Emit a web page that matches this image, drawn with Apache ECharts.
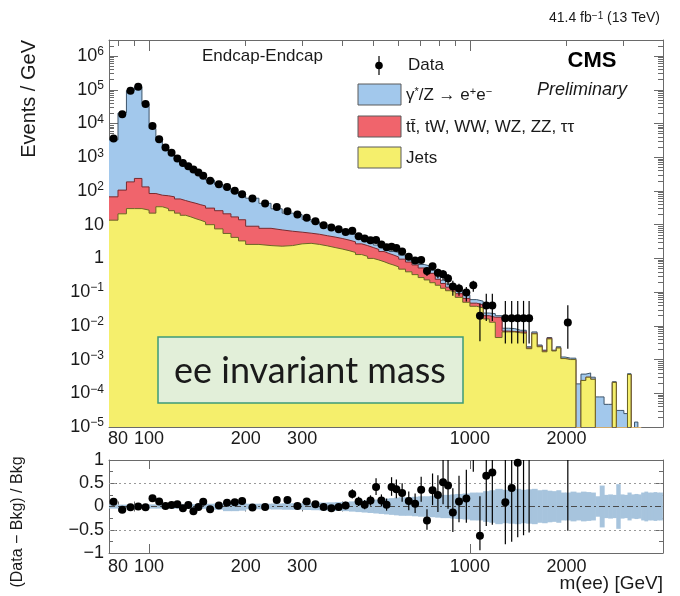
<!DOCTYPE html>
<html>
<head>
<meta charset="utf-8">
<title>m(ee) Endcap-Endcap</title>
<script src="https://cdn.jsdelivr.net/npm/echarts@6.0.0/dist/echarts.min.js"></script>
<style>
  html, body { margin: 0; padding: 0; background: #fff; }
  #chart { width: 680px; height: 596px; }
</style>
</head>
<body>
<div id="chart"></div>
<script>
// ---- binning (GeV) ----
const binEdges = [75, 80, 85, 90, 95, 100, 105, 110, 115, 120, 125, 130, 135, 140, 145, 150,
  160, 170, 180, 190, 200,
  220, 240, 260, 280, 300, 320, 340, 360, 380, 400, 420, 440, 460, 480, 500, 520, 540, 560, 580, 600,
  630, 660, 690, 720, 750, 780, 810, 840, 870, 900,
  950, 1000, 1050, 1100, 1150, 1200,
  1260, 1320, 1380, 1440, 1500, 1560, 1620, 1680, 1740, 1800, 1860, 1920, 1980,
  2060, 2140, 2220, 2300, 2380, 2460, 2540, 2620, 2700, 2780, 2860, 2940, 3020, 3100, 3180, 3260, 3340, 3420,
  3500, 3580, 3660, 3740, 3820, 3900, 3980];

// ---- backgrounds, events / GeV per bin ----
const dyEE = [3203, 20294, 94214, 122765, 38168, 7016, 3025, 1858, 1243, 818,
  656, 482, 427, 319, 224, 181, 130, 101, 76, 57,
  52, 35.2, 22.6, 15.6, 13.8, 8.8, 6.9, 5.1, 4.3, 3.5,
  2.5, 2.1, 1.4, 1.35, 0.97, 0.65, 0.7, 0.65, 0.35, 0.4,
  0.3, 0.22, 0.18, 0.14, 0.14, 0.08, 0.06, 0.045, 0.035, 0.03,
  0.025, 0.018, 0.013, 0.012, 0.004, 0.005, 0.002, 0.0015, 0.0015, 0.0008,
  0.0008, 0.0002, 0.0006, 0.0002, 0.0001, 0.0002, 0.0001, 0.0002, 0.00012, 0.0001,
  0.0001, 1.9e-4, 1.3e-4, 1.0e-4, 4e-5, 7.8e-5, 7.8e-5, 4.7e-5, 4.7e-5, 1e-5,
  3.1e-5, 3.1e-5, 2.5e-5, 2e-5, 0, 1.4e-5, 0];

const ttbarEtc = [53.4, 85, 156, 205, 105, 62, 41, 42, 41, 36,
  33, 30, 28, 25.5, 24, 21, 18.5, 15.5, 12.8, 10.7,
  6.4, 5.4, 4.7, 4.0, 3.3, 2.8, 2.6, 2.35, 2.2, 2.0,
  1.8, 1.6, 1.4, 1.25, 1.1, 0.95, 0.8, 0.7, 0.62, 0.54,
  0.47, 0.38, 0.31, 0.25, 0.23, 0.17, 0.08, 0.05, 0.03, 0.03,
  0.02, 0.015, 0.009, 0.008, 0.004, 0.0052, 0.0135, 0.0004, 0.0002, 0.0004,
  0.0006, 0.0001, 0.0002, 0.0001, 0.0001, 0.0002, 0, 0, 0, 0,
  0, 0, 0, 0, 0, 0, 0, 0, 0, 0,
  0, 0, 0, 0, 0, 0, 0];

const jets = [13.6, 21, 30, 30, 27, 22, 34, 30, 26, 22,
  19, 17, 15, 13.5, 12, 10, 7.5, 5.5, 4.2, 3.3,
  2.6, 2.4, 2.3, 2.4, 2.7, 2.8, 2.6, 2.35, 2.1, 1.9,
  1.7, 1.5, 1.3, 1.15, 1.0, 0.9, 0.8, 0.7, 0.63, 0.56,
  0.48, 0.4, 0.33, 0.27, 0.23, 0.19, 0.16, 0.13, 0.11, 0.1,
  0.07, 0.05, 0.038, 0.034, 0.016, 0.0128, 0.0045, 0.0066, 0.0066, 0.0062,
  0.006, 0.0021, 0.0058, 0.0024, 0.0017, 0.0041, 0.0018, 0.0022, 0.00107, 0.001,
  0.001, 0, 2.4e-4, 3.0e-4, 2.6e-4, 0, 0, 0, 0, 2.1e-4,
  0, 0, 0, 3.6e-4, 0, 0, 0];

// ---- data, events / GeV (null = empty bin) ----
const dataVals = [3600, 19000, 93000, 123000, 37700, 8400, 3440, 1950, 1350, 920,
  680, 545, 430, 355, 285, 200, 159, 132, 101, 80,
  60, 42.6, 33.7, 25, 20, 16, 12.7, 9.7, 8.3, 7.35,
  6.1, 6.6, 4.56, 3.9, 3.47, 3.5, 2.58, 2.15, 2.2, 2.05,
  1.6, 1.12, 0.87, 0.9, 0.42, 0.59, 0.375, 0.34, 0.253, 0.148,
  0.128, 0.097, 0.16, 0.02, 0.04, 0.04, null, 0.0167, 0.0167, 0.0167,
  0.0167, 0.0167, null, null, null, null, null, null, null, 0.0125,
  null, null, null, null, null, null, null, null, null, null,
  null, null, null, null, null, null, null];

// visible data error bars: [bin, low, high] in events / GeV
const dataErrBars = [[40, 1.37, 1.83], [41, 0.93, 1.31], [42, 0.70, 1.04], [43, 0.73, 1.07],
  [44, 0.30, 0.54], [45, 0.45, 0.73], [46, 0.26, 0.49], [47, 0.23, 0.45], [48, 0.16, 0.345],
  [49, 0.078, 0.218], [50, 0.078, 0.178], [51, 0.053, 0.141], [52, 0.103, 0.217],
  [53, 0.0035, 0.046], [54, 0.014, 0.09], [55, 0.014, 0.09],
  [57, 0.003, 0.055], [58, 0.003, 0.055], [59, 0.003, 0.055], [60, 0.003, 0.055], [61, 0.003, 0.055],
  [69, 0.0021, 0.041]];

// ---- ratio panel ----
const ratioVals = [0.10, -0.07, -0.015, 0.0, -0.015, 0.18, 0.11, 0.01, 0.03, 0.05,
  -0.04, 0.03, -0.10, -0.01, 0.10, -0.06, 0.02, 0.08, 0.09, 0.12,
  -0.02, -0.01, 0.14, 0.14, 0.01, 0.11, 0.05, -0.01, -0.04, -0.01,
  0.02, 0.27, 0.11, 0.04, 0.13, 0.42, 0.13, 0.04, 0.42, 0.37,
  0.29, 0.12, 0.06, 0.36, -0.30, 0.35, 0.25, 0.52, 0.45, -0.13,
  0.11, 0.17, 1.7, -0.63, 0.66, 0.73, null, 0.09, 0.40, 0.94,
  1.25, 1.6, null, null, null, null, null, null, null, 1.8,
  null, null, null, null, null, null, null, null, null, null,
  null, null, null, null, null, null, null];

const ratioErrDown = [0.01, 0.01, 0.01, 0.01, 0.01, 0.01, 0.01, 0.01, 0.01, 0.01,
  0.01, 0.01, 0.01, 0.01, 0.01, 0.01, 0.01, 0.01, 0.01, 0.01,
  0.03, 0.04, 0.04, 0.05, 0.05, 0.06, 0.06, 0.07, 0.07, 0.07,
  0.08, 0.10, 0.10, 0.10, 0.11, 0.17, 0.13, 0.13, 0.19, 0.19,
  0.19, 0.20, 0.20, 0.26, 0.20, 0.32, 0.37, 0.47, 0.50, 0.42,
  0.45, 0.52, 0.95, 0.31, 1.08, 1.12, null, 0.90, 1.16, 1.60,
  1.87, 2.16, null, null, null, null, null, null, null, 2.32,
  null, null, null, null, null, null, null, null, null, null,
  null, null, null, null, null, null, null];

const ratioErrUp = [0.01, 0.01, 0.01, 0.01, 0.01, 0.01, 0.01, 0.01, 0.01, 0.01,
  0.01, 0.01, 0.01, 0.01, 0.01, 0.01, 0.01, 0.01, 0.01, 0.01,
  0.03, 0.04, 0.04, 0.05, 0.05, 0.06, 0.06, 0.07, 0.07, 0.07,
  0.08, 0.10, 0.10, 0.10, 0.11, 0.19, 0.13, 0.13, 0.21, 0.21,
  0.21, 0.20, 0.22, 0.28, 0.24, 0.36, 0.42, 0.55, 0.58, 0.52,
  0.55, 0.62, 1.20, 0.85, 2.20, 2.30, null, 2.50, 3.20, 4.50,
  5.00, 6.00, null, null, null, null, null, null, null, 6.50,
  null, null, null, null, null, null, null, null, null, null,
  null, null, null, null, null, null, null];

// total background uncertainty, relative half-width per bin
const bkgUnc = [0.045, 0.04, 0.035, 0.035, 0.04, 0.045, 0.045, 0.045, 0.045, 0.045,
  0.05, 0.05, 0.05, 0.05, 0.05, 0.06, 0.07, 0.1, 0.1, 0.09,
  0.06, 0.06, 0.065, 0.07, 0.07, 0.075, 0.08, 0.085, 0.09, 0.095,
  0.1, 0.11, 0.12, 0.13, 0.14, 0.15, 0.16, 0.17, 0.18, 0.19,
  0.2, 0.2, 0.21, 0.22, 0.22, 0.23, 0.24, 0.25, 0.25, 0.26,
  0.27, 0.28, 0.3, 0.3, 0.33, 0.35, 0.38, 0.36, 0.37, 0.38,
  0.36, 0.37, 0.38, 0.35, 0.36, 0.34, 0.33, 0.35, 0.3, 0.3,
  0.32, 0.3, 0.32, 0.31, 0.3, 0.22, 0.45, 0.25, 0.26, 0.25,
  0.48, 0.26, 0.25, 0.3, 0.26, 0.27, 0.26, 0.3, 0.32, 0.3,
  0.3, 0.31, 0.3, 0.3];

// ---- axis ticks and labels ----
const xLabelValues = [80, 100, 200, 300, 1000, 2000];
const xMajorTicks = [100, 1000];
const xMinorTicks = [80, 90, 200, 300, 400, 500, 600, 700, 800, 900, 2000, 3000];
const yDecades = [1e-5, 1e-4, 1e-3, 1e-2, 1e-1, 1, 10, 100, 1e3, 1e4, 1e5, 1e6];
const ratioLabels = [-1, -0.5, 0, 0.5, 1];
const ratioMinor = [-0.75, -0.25, 0.25, 0.75];

// ---- style ----
const FONT = '"Liberation Sans", Arial, Helvetica, sans-serif';
const FRAME = '#6a6a6a';
const TXT = '#1a1a1a';
const C_DY = '#a2c8ec', C_DY_EDGE = '#3d556b';
const C_TT = '#f0646c', C_TT_EDGE = '#7a2a2e';
const C_JET = '#f5ef6c', C_JET_EDGE = '#6b6626';
const C_BAND = '#a7c4dd';

const X_MIN = 75, X_MAX = 4000;
const Y_MIN = 1e-5, Y_MAX = 3e6;
const FLOOR = 1e-7; // empty bins sit below the visible log range

const yMinor = [];
yDecades.forEach(d => { for (let k = 2; k <= 9; k++) { if (k * d < Y_MAX) yMinor.push(k * d); } });

const binCenter = i => (binEdges[i] + binEdges[i + 1]) / 2;

// cumulative stack: jets, + ttbar & co, + DY
const stackJets = jets.slice();
const stackTT = jets.map((v, i) => v + ttbarEtc[i]);
const stackAll = stackTT.map((v, i) => v + dyEE[i]);

function stepPoints(vals) {
  const pts = vals.map((v, i) => [binEdges[i], Math.max(v, FLOOR)]);
  pts.push([binEdges[vals.length], Math.max(vals[vals.length - 1], FLOOR)]);
  return pts;
}

function histSeries(name, vals, fill, edge, z) {
  return {
    name, type: 'line', xAxisIndex: 0, yAxisIndex: 0, step: 'end',
    data: stepPoints(vals), symbol: 'none', showSymbol: false,
    lineStyle: { color: edge, width: 1 },
    areaStyle: { color: fill, opacity: 1, origin: 'start' },
    z, silent: true, animation: false, clip: true
  };
}

function powLabel(v) {
  const n = Math.round(Math.log10(v));
  if (n === 0) return '1';
  if (n === 1) return '10';
  return '{b|10}{s|' + (n < 0 ? '\u2212' + (-n) : n) + '}';
}

function xAxes(grid, majorLen, minorLen, labelMargin) {
  const common = {
    type: 'log', logBase: 10, gridIndex: grid, min: X_MIN, max: X_MAX,
    splitLine: { show: false }, minorTick: { show: false }, minorSplitLine: { show: false },
    silent: true
  };
  const tickStyle = { color: FRAME, width: 1 };
  return [
    { ...common, position: 'bottom',
      axisLine: { show: true, onZero: false, lineStyle: { color: FRAME, width: 1 } },
      axisTick: { show: true, inside: true, length: majorLen, customValues: xMajorTicks, lineStyle: tickStyle },
      axisLabel: { show: true, customValues: xLabelValues, formatter: v => String(Math.round(v)),
        fontSize: 18, fontFamily: FONT, color: TXT, margin: labelMargin } },
    { ...common, position: 'bottom', axisLine: { show: false },
      axisTick: { show: true, inside: true, length: minorLen, customValues: xMinorTicks, lineStyle: tickStyle },
      axisLabel: { show: false } },
    { ...common, position: 'top',
      axisLine: { show: true, onZero: false, lineStyle: { color: FRAME, width: 1 } },
      axisTick: { show: true, inside: true, length: majorLen, customValues: xMajorTicks, lineStyle: tickStyle },
      axisLabel: { show: false } },
    { ...common, position: 'top', axisLine: { show: false },
      axisTick: { show: true, inside: true, length: minorLen, customValues: xMinorTicks, lineStyle: tickStyle },
      axisLabel: { show: false } }
  ];
}

const tickStyle = { color: FRAME, width: 1 };
const yTopCommon = { type: 'log', logBase: 10, gridIndex: 0, min: Y_MIN, max: Y_MAX,
  splitLine: { show: false }, minorTick: { show: false }, silent: true };
const yRatioCommon = { type: 'value', gridIndex: 1, min: -1, max: 1,
  splitLine: { show: false }, minorTick: { show: false }, silent: true };

const yAxes = [
  { ...yTopCommon, position: 'left',
    axisLine: { show: true, onZero: false, lineStyle: { color: FRAME, width: 1 } },
    axisTick: { show: true, inside: true, length: 9, customValues: yDecades, lineStyle: tickStyle },
    axisLabel: { show: true, customValues: yDecades, formatter: powLabel, margin: 5,
      fontSize: 18, fontFamily: FONT, color: TXT,
      rich: { b: { fontSize: 18, fontFamily: FONT, color: TXT, lineHeight: 20 },
              s: { fontSize: 12, fontFamily: FONT, color: TXT, verticalAlign: 'top', lineHeight: 12 } } } },
  { ...yTopCommon, position: 'left', axisLine: { show: false },
    axisTick: { show: true, inside: true, length: 5, customValues: yMinor, lineStyle: tickStyle },
    axisLabel: { show: false } },
  { ...yTopCommon, position: 'right',
    axisLine: { show: true, onZero: false, lineStyle: { color: FRAME, width: 1 } },
    axisTick: { show: true, inside: true, length: 9, customValues: yDecades, lineStyle: tickStyle },
    axisLabel: { show: false } },
  { ...yTopCommon, position: 'right', axisLine: { show: false },
    axisTick: { show: true, inside: true, length: 5, customValues: yMinor, lineStyle: tickStyle },
    axisLabel: { show: false } },
  { ...yRatioCommon, position: 'left',
    axisLine: { show: true, onZero: false, lineStyle: { color: FRAME, width: 1 } },
    axisTick: { show: true, inside: true, length: 8, customValues: ratioLabels, lineStyle: tickStyle },
    axisLabel: { show: true, customValues: ratioLabels, margin: 5, fontSize: 18, fontFamily: FONT, color: TXT,
      formatter: v => (v < 0 ? '\u2212' + Math.abs(v) : String(v)) } },
  { ...yRatioCommon, position: 'left', axisLine: { show: false },
    axisTick: { show: true, inside: true, length: 4, customValues: ratioMinor, lineStyle: tickStyle },
    axisLabel: { show: false } },
  { ...yRatioCommon, position: 'right',
    axisLine: { show: true, onZero: false, lineStyle: { color: FRAME, width: 1 } },
    axisTick: { show: true, inside: true, length: 8, customValues: ratioLabels, lineStyle: tickStyle },
    axisLabel: { show: false } },
  { ...yRatioCommon, position: 'right', axisLine: { show: false },
    axisTick: { show: true, inside: true, length: 4, customValues: ratioMinor, lineStyle: tickStyle },
    axisLabel: { show: false } }
];

// series data
const dataPoints = [];
dataVals.forEach((v, i) => { if (v != null) dataPoints.push([binCenter(i), v]); });
const dataBars = dataErrBars.map(([i, lo, hi]) => [binCenter(i), lo, hi]);

const ratioPoints = [];
const ratioBars = [];
ratioVals.forEach((r, i) => {
  if (r == null) return;
  ratioPoints.push([binCenter(i), r]);
  ratioBars.push([binCenter(i), r - ratioErrDown[i], r + ratioErrUp[i]]);
});
const bandRects = bkgUnc.map((u, i) => [binEdges[i], binEdges[i + 1], u]);

function errorBarItem(params, api) {
  const x = api.value(0);
  const a = api.coord([x, api.value(1)]);
  const b = api.coord([x, api.value(2)]);
  return { type: 'line', shape: { x1: a[0], y1: a[1], x2: b[0], y2: b[1] },
    style: { stroke: '#000', lineWidth: 1.2 } };
}

const supRich = (size) => ({ s: { fontSize: size, fontFamily: FONT, fill: TXT, verticalAlign: 'top', lineHeight: size } });

const option = {
  animation: false,
  backgroundColor: '#ffffff',
  grid: [
    { left: 109, top: 40, width: 554, height: 387, containLabel: false, outerBoundsMode: 'none' },
    { left: 109, top: 460, width: 554, height: 93, containLabel: false, outerBoundsMode: 'none' }
  ],
  xAxis: [...xAxes(0, 11, 6, 3), ...xAxes(1, 9, 5, 5)],
  yAxis: yAxes,
  series: [
    histSeries('\u03b3*/Z \u2192 ee', stackAll, C_DY, C_DY_EDGE, 2),
    histSeries('tt, tW, WW, WZ, ZZ, \u03c4\u03c4', stackTT, C_TT, C_TT_EDGE, 3),
    histSeries('Jets', stackJets, C_JET, C_JET_EDGE, 4),
    { type: 'custom', name: 'data errors', xAxisIndex: 0, yAxisIndex: 0, data: dataBars,
      encode: { x: 0, y: [1, 2] }, renderItem: errorBarItem, clip: true, z: 9, silent: true },
    { type: 'scatter', name: 'Data', xAxisIndex: 0, yAxisIndex: 0, data: dataPoints,
      symbol: 'circle', symbolSize: 8, itemStyle: { color: '#000', opacity: 1 }, z: 10, silent: true, clip: true },
    { type: 'custom', name: 'bkg uncertainty', xAxisIndex: 4, yAxisIndex: 4, data: bandRects,
      encode: { x: [0, 1], y: 2 }, clip: true, z: 2, silent: true,
      renderItem: (params, api) => {
        const a = api.coord([api.value(0), api.value(2)]);
        const b = api.coord([api.value(1), -api.value(2)]);
        return { type: 'rect', shape: { x: a[0], y: a[1], width: b[0] - a[0] + 0.6, height: b[1] - a[1] },
          style: { fill: C_BAND } };
      } },
    { type: 'custom', name: 'ratio errors', xAxisIndex: 4, yAxisIndex: 4, data: ratioBars,
      encode: { x: 0, y: [1, 2] }, renderItem: errorBarItem, clip: true, z: 9, silent: true },
    { type: 'scatter', name: 'ratio', xAxisIndex: 4, yAxisIndex: 4, data: ratioPoints,
      symbol: 'circle', symbolSize: 8, itemStyle: { color: '#000', opacity: 1 }, z: 10, silent: true, clip: true,
      markLine: { silent: true, symbol: 'none', label: { show: false }, animation: false, z: 5,
        data: [
          { yAxis: 0.5, lineStyle: { type: [2, 3], color: '#9a9a9a', width: 1 } },
          { yAxis: -0.5, lineStyle: { type: [2, 3], color: '#9a9a9a', width: 1 } },
          { yAxis: 0, lineStyle: { type: [6, 3, 2, 3], color: '#4a4a4a', width: 1 } }
        ] } }
  ],
  graphic: [
    { type: 'text', x: 660, y: 18, z: 100,
      style: { text: '41.4 fb{s|\u22121} (13 TeV)', font: '14px ' + FONT, fill: TXT,
        align: 'right', verticalAlign: 'middle', rich: supRich(10) } },
    { type: 'text', x: 29, y: 40, rotation: Math.PI / 2, z: 100,
      style: { text: 'Events / GeV', font: '20px ' + FONT, fill: TXT, align: 'right', verticalAlign: 'middle' } },
    { type: 'text', x: 18, y: 522, rotation: Math.PI / 2, z: 100,
      style: { text: '(Data \u2212 Bkg) / Bkg', font: '16px ' + FONT, fill: TXT, align: 'center', verticalAlign: 'middle' } },
    { type: 'text', x: 663, y: 584, z: 100,
      style: { text: 'm(ee) [GeV]', font: '19px ' + FONT, fill: TXT, align: 'right', verticalAlign: 'middle' } },
    { type: 'text', x: 202, y: 56, z: 100,
      style: { text: 'Endcap-Endcap', font: '17px ' + FONT, fill: TXT, align: 'left', verticalAlign: 'middle' } },
    // legend
    { type: 'line', z: 100, shape: { x1: 379, y1: 56, x2: 379, y2: 75 }, style: { stroke: '#000', lineWidth: 1.2 } },
    { type: 'circle', z: 101, shape: { cx: 379, cy: 65.5, r: 3.8 }, style: { fill: '#000' } },
    { type: 'text', x: 408, y: 65, z: 100,
      style: { text: 'Data', font: '17px ' + FONT, fill: TXT, align: 'left', verticalAlign: 'middle' } },
    { type: 'rect', z: 100, shape: { x: 358, y: 84, width: 43, height: 21 }, style: { fill: C_DY, stroke: '#5a5a5a', lineWidth: 1 } },
    { type: 'text', x: 406, y: 95, z: 100,
      style: { text: '\u03b3{s|*}/Z \u2192 e{s|+}e{s|\u2212}', font: '17px ' + FONT, fill: TXT,
        align: 'left', verticalAlign: 'middle', rich: supRich(11) } },
    { type: 'rect', z: 100, shape: { x: 358, y: 116, width: 43, height: 21 }, style: { fill: C_TT, stroke: '#5a5a5a', lineWidth: 1 } },
    { type: 'text', x: 406, y: 127, z: 100,
      style: { text: 'tt\u0304, tW, WW, WZ, ZZ, \u03c4\u03c4', font: '17px ' + FONT, fill: TXT,
        align: 'left', verticalAlign: 'middle' } },
    { type: 'rect', z: 100, shape: { x: 358, y: 147, width: 43, height: 21 }, style: { fill: C_JET, stroke: '#5a5a5a', lineWidth: 1 } },
    { type: 'text', x: 406, y: 158, z: 100,
      style: { text: 'Jets', font: '17px ' + FONT, fill: TXT, align: 'left', verticalAlign: 'middle' } },
    // experiment label
    { type: 'text', x: 592, y: 61, z: 100,
      style: { text: 'CMS', font: 'bold 22px ' + FONT, fill: '#000', align: 'center', verticalAlign: 'middle' } },
    { type: 'text', x: 627, y: 90, z: 100,
      style: { text: 'Preliminary', font: 'italic 18px ' + FONT, fill: TXT, align: 'right', verticalAlign: 'middle' } },
    // caption box
    { type: 'rect', z: 110, shape: { x: 158, y: 337, width: 305, height: 66 },
      style: { fill: '#e2efd9', stroke: '#3d9b78', lineWidth: 1.5 } },
    { type: 'text', x: 310, y: 371, z: 111,
      style: { text: 'ee invariant mass', font: '36px Lato, "Open Sans", sans-serif', fill: '#1a1a1a',
        align: 'center', verticalAlign: 'middle' } }
  ]
};

const chart = echarts.init(document.getElementById('chart'), null, { renderer: 'canvas' });
chart.setOption(option);
</script>
</body>
</html>
